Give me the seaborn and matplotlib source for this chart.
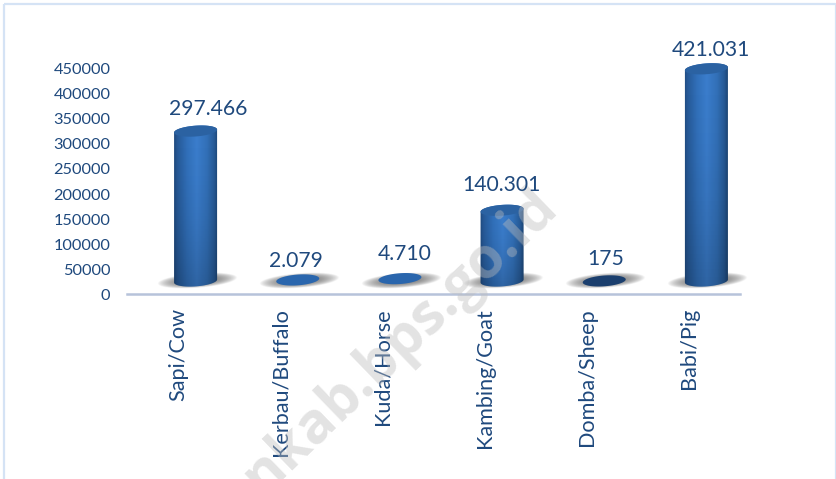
import numpy as np
import pandas as pd
import matplotlib
matplotlib.use('Agg')
import matplotlib.pyplot as plt
import seaborn as sns
from matplotlib.colors import LinearSegmentedColormap
from matplotlib.patches import Polygon, Rectangle
from matplotlib.transforms import ScaledTranslation

# data
categories = ['Sapi/Cow', 'Kerbau/Buffalo', 'Kuda/Horse', 'Kambing/Goat', 'Domba/Sheep', 'Babi/Pig']
values = [297466, 2079, 4710, 140301, 175, 421031]
value_labels = ['297.466', '2.079', '4.710', '140.301', '175', '421.031']
y_ticks = [0, 50000, 100000, 150000, 200000, 250000, 300000, 350000, 400000, 450000]

# hand placed labels in the original, offset from the cylinder top (px)
label_dx = [13, -2, 5, -1, 1, 5]
label_dy = [22, 19, 25, 25, 22, 19]

W, H = 837, 479
TEXT = '#1f497d'
DEPTH_X = 17.5   # the fake 3d floor sits this far right of the category centre
TICK_DROP = 14  # and the tick labels sit this far below it

sns.set_theme(style='white')
plt.rcParams['font.family'] = ['Lato', 'DejaVu Sans']

df = pd.DataFrame({'animal': categories, 'count': values})

fig = plt.figure(figsize=(W / 100, H / 100), dpi=100, facecolor='white')
ax = fig.add_axes([127 / W, 1 - 294 / H, (740 - 127) / W, (294 - 40) / H])
sns.barplot(data=df, x='animal', y='count', ax=ax, width=0.41, color='#2f69ad')

# 0 at pixel row 281, 0.504 px per 1000
ax.set_xlim(-0.5, 5.5)
ax.set_ylim(-13 / 0.000504, 241 / 0.000504)
ax.set_xlabel('')
ax.set_ylabel('')
ax.set_yticks(y_ticks)
ax.set_yticklabels([str(t) for t in y_ticks], fontsize=11.8, color=TEXT)
ax.set_xticks(range(len(categories)))
ax.set_xticklabels(categories, rotation=90, fontsize=15.6, color=TEXT)
ax.tick_params(axis='x', length=0, pad=10)
ax.tick_params(axis='y', length=0, pad=12)
for lab in ax.get_xticklabels():
    lab.set_verticalalignment('top')
drop = ScaledTranslation(0, -TICK_DROP / 100, fig.dpi_scale_trans)
for lab in ax.get_yticklabels():
    lab.set_transform(lab.get_transform() + drop)
sns.despine(ax=ax, left=True, top=True, right=True)
ax.spines['bottom'].set_color('#b7c3da')
ax.spines['bottom'].set_linewidth(1.8)
ax.set_facecolor('none')

# overlay in pixel coordinates for the cylinders
over = fig.add_axes([0, 0, 1, 1], zorder=3)
over.set_axis_off()
over.patch.set_alpha(0)

body_cmap = LinearSegmentedColormap.from_list('body', [
    (0.00, '#1f4a7f'), (0.08, '#275a98'), (0.30, '#3170ba'), (0.52, '#3b7dcc'),
    (0.75, '#3270b8'), (0.92, '#275a96'), (1.00, '#1d4676')])


def ellipse_pts(cx, cy, a=21.5, b=5.4, lo=0, hi=2 * np.pi):
    t = np.linspace(lo, hi, 80)
    return np.column_stack([cx + a * np.cos(t), cy + b * np.sin(t) - 0.07 * a * np.cos(t)])


def floor_shadow(cx, cy):
    # soft grey smear under each cylinder, leaning to the right
    xs = np.linspace(cx - 44, cx + 44, 176)
    ys = np.linspace(cy - 12, cy + 12, 50)
    xx, yy = np.meshgrid(xs, ys)
    u = (xx - cx - 0.5 + 1.9 * (yy - cy)) / 37
    v = (yy - cy + 0.5) / 8
    alpha = np.clip(1 - (u ** 2 + v ** 2), 0, 1) ** 0.8 * 0.75
    img = np.zeros(xx.shape + (4,))
    img[..., :3] = 0.3
    img[..., 3] = alpha
    over.imshow(img, extent=(xs[0], xs[-1], ys[-1], ys[0]), aspect='auto', zorder=1,
                interpolation='bilinear')


for bar, val, txt, dx, dy in zip(ax.patches, values, value_labels, label_dx, label_dy):
    (px, top), (_, base) = ax.transData.transform(
        [(bar.get_x() + bar.get_width() / 2, val), (bar.get_x() + bar.get_width() / 2, 0)])
    bar.set_visible(False)
    cx = px + DEPTH_X
    top_y = H - top
    base_y = H - base
    floor_shadow(cx, base_y)

    if val > 20000:
        lower = ellipse_pts(cx, base_y, lo=0, hi=np.pi)
        upper = ellipse_pts(cx, top_y, lo=np.pi, hi=2 * np.pi)
        shape = Polygon(np.vstack([lower, upper]), closed=True, transform=over.transData,
                        facecolor='none', edgecolor='none')
        over.add_patch(shape)
        grad = np.linspace(0, 1, 120)[None, :]
        im = over.imshow(body_cmap(grad), extent=(cx - 22, cx + 22, base_y + 7, top_y - 7),
                         aspect='auto', zorder=2)
        im.set_clip_path(shape)
        # goes a bit darker toward the floor
        n = 60
        fade = np.zeros((n, 1, 4))
        fade[..., 3] = (np.linspace(0, 1, n) ** 2 * 0.2)[:, None]
        im2 = over.imshow(fade, extent=(cx - 22, cx + 22, base_y + 7, top_y - 7),
                          aspect='auto', zorder=2.1)
        im2.set_clip_path(shape)
        cap = '#2b62a2'
    elif val < 1000:
        cap = '#1b3f6e'
    else:
        cap = '#2a66ad'
    over.add_patch(Polygon(ellipse_pts(cx, top_y), closed=True, facecolor=cap,
                           edgecolor='none', zorder=3))
    over.text(cx + dx, top_y - dy, txt, ha='center', va='center', fontsize=15.2,
              color=TEXT, zorder=5)

over.set_xlim(0, W)
over.set_ylim(H, 0)

# light blue frame round the picture
over.add_patch(Rectangle((4, 4), W - 5, H - 2, facecolor='none', edgecolor='#d5e3f5', lw=1.6, zorder=6))

# site watermark, runs off the bottom edge
over.text(262, 496, 'nkab.bps.go.id', rotation=44, rotation_mode='anchor', ha='left', va='baseline',
          fontsize=41, fontweight='bold', family=['Open Sans', 'DejaVu Sans'],
          color='#bdbdbd', alpha=0.42, zorder=4)

plt.savefig('out.png', dpi=100)
print('saved out.png')
